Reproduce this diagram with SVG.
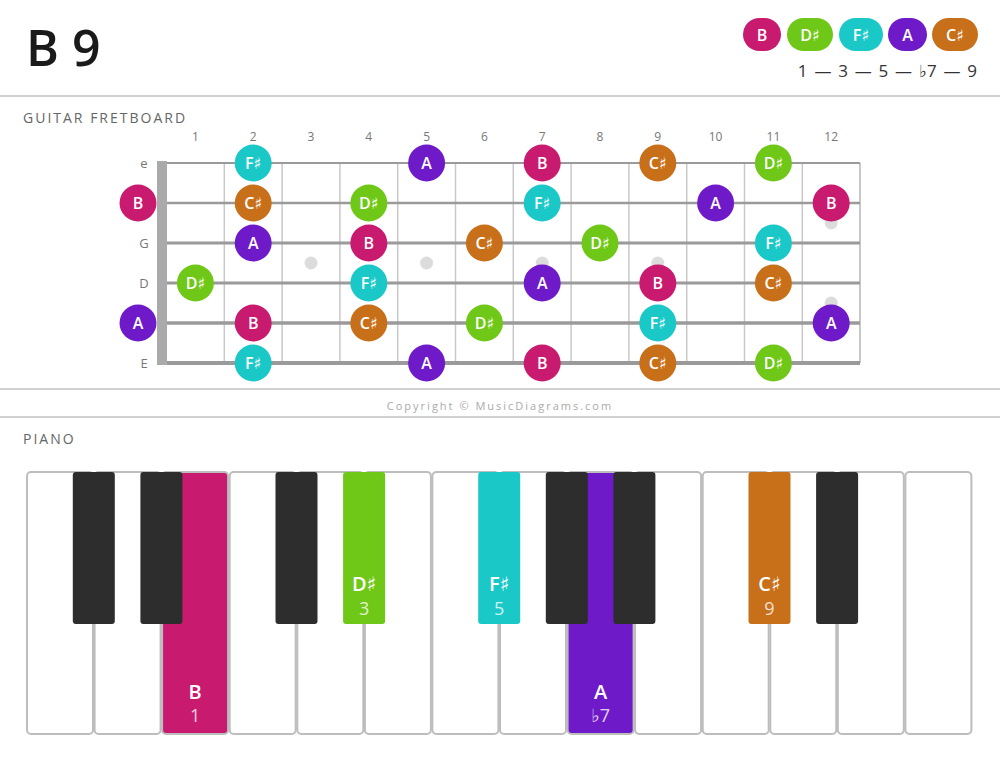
<svg xmlns="http://www.w3.org/2000/svg" width="1000" height="759" viewBox="0 0 1000 759">
<style>
text{font-family:"Open Sans","Noto Sans","DejaVu Sans",sans-serif}
.sep{stroke:#d0d0d0;stroke-width:2}
.head{font-size:14px;fill:#666;letter-spacing:2px}
.fn{font-size:12px;fill:#777;text-anchor:middle}
.sl{font-size:13px;fill:#777;text-anchor:middle}
.str{stroke:#9a9a9a}
.fret{stroke:#c8c8c8;stroke-width:1.5}
.dot{fill:#dcdcdc}
.n text,.lg text{fill:#fff;font-weight:600;font-size:16px;text-anchor:middle}
.wk{fill:#fff;stroke:#bdbdbd;stroke-width:2}
.bk{fill:#2d2d2d}
.kl{fill:#fff;font-weight:600;font-size:20px;text-anchor:middle}
.ki{fill:#fff;fill-opacity:.8;font-size:18px;text-anchor:middle}
.cB{fill:#c81a6f}.cD{fill:#6fc817}.cF{fill:#1bc8c8}.cA{fill:#6f1ac8}.cC{fill:#c86f1a}
</style>
<rect width="1000" height="759" fill="#fff"/>
<text x="26" y="66" font-size="50" font-weight="600" fill="#1a1a1a">B 9</text>
<g class="lg" id="legend">
<rect x="743" y="18" width="38" height="33" rx="16.5" class="cB"/><text x="762" y="40.5">B</text>
<rect x="787" y="18" width="46" height="33" rx="16.5" class="cD"/><text x="810" y="40.5">D♯</text>
<rect x="839" y="18" width="44" height="33" rx="16.5" class="cF"/><text x="861" y="40.5">F♯</text>
<rect x="888" y="18" width="39" height="33" rx="16.5" class="cA"/><text x="907.5" y="40.5">A</text>
<rect x="932" y="18" width="46" height="33" rx="16.5" class="cC"/><text x="955" y="40.5">C♯</text>
</g>
<text x="977" y="77" font-size="17" fill="#333" text-anchor="end" word-spacing="2.4">1 — 3 — 5 — ♭7 — 9</text>
<line x1="0" y1="96" x2="1000" y2="96" class="sep"/>
<text x="23" y="123" class="head">GUITAR FRETBOARD</text>
<g id="fret-numbers">
<text x="195.4" y="141" class="fn">1</text><text x="253.2" y="141" class="fn">2</text><text x="311" y="141" class="fn">3</text><text x="368.8" y="141" class="fn">4</text><text x="426.6" y="141" class="fn">5</text><text x="484.4" y="141" class="fn">6</text><text x="542.2" y="141" class="fn">7</text><text x="600" y="141" class="fn">8</text><text x="657.8" y="141" class="fn">9</text><text x="715.6" y="141" class="fn">10</text><text x="773.4" y="141" class="fn">11</text><text x="831.2" y="141" class="fn">12</text>
</g>
<g id="string-labels">
<text x="144" y="168" class="sl">e</text><text x="144" y="248" class="sl">G</text><text x="144" y="288" class="sl">D</text><text x="144" y="368" class="sl">E</text>
</g>
<g id="fretboard">
<g class="fret">
<line x1="224.3" y1="163" x2="224.3" y2="363"/><line x1="282.1" y1="163" x2="282.1" y2="363"/><line x1="339.9" y1="163" x2="339.9" y2="363"/><line x1="397.7" y1="163" x2="397.7" y2="363"/><line x1="455.5" y1="163" x2="455.5" y2="363"/><line x1="513.3" y1="163" x2="513.3" y2="363"/><line x1="571.1" y1="163" x2="571.1" y2="363"/><line x1="628.9" y1="163" x2="628.9" y2="363"/><line x1="686.7" y1="163" x2="686.7" y2="363"/><line x1="744.5" y1="163" x2="744.5" y2="363"/><line x1="802.3" y1="163" x2="802.3" y2="363"/><line x1="860" y1="163" x2="860" y2="363" stroke-width="2"/>
</g>
<g class="dot">
<circle cx="311" cy="263" r="6.5"/><circle cx="426.6" cy="263" r="6.5"/><circle cx="542.2" cy="263" r="6.5"/><circle cx="657.8" cy="263" r="6.5"/><circle cx="831.2" cy="223" r="6.5"/><circle cx="831.2" cy="303" r="6.5"/>
</g>
<g class="str">
<line x1="157" y1="163" x2="860" y2="163" stroke-width="2"/><line x1="157" y1="203" x2="860" y2="203" stroke-width="2.4"/><line x1="157" y1="243" x2="860" y2="243" stroke-width="2.8"/><line x1="157" y1="283" x2="860" y2="283" stroke-width="3.2"/><line x1="157" y1="323" x2="860" y2="323" stroke-width="3.6"/><line x1="157" y1="363" x2="860" y2="363" stroke-width="4"/>
</g>
<rect x="157" y="161" width="10" height="204" fill="#aaa"/>
</g>
<g class="n" id="fret-notes">
<g id="e2"><circle cx="253.2" cy="163" r="18.5" class="cF"/><text x="253.2" y="168.5">F♯</text></g>
<g id="e5"><circle cx="426.6" cy="163" r="18.5" class="cA"/><text x="426.6" y="168.5">A</text></g>
<g id="e7"><circle cx="542.2" cy="163" r="18.5" class="cB"/><text x="542.2" y="168.5">B</text></g>
<g id="e9"><circle cx="657.8" cy="163" r="18.5" class="cC"/><text x="657.8" y="168.5">C♯</text></g>
<g id="e11"><circle cx="773.4" cy="163" r="18.5" class="cD"/><text x="773.4" y="168.5">D♯</text></g>
<g id="B0"><circle cx="138" cy="203" r="18.5" class="cB"/><text x="138" y="208.5">B</text></g>
<g id="B2"><circle cx="253.2" cy="203" r="18.5" class="cC"/><text x="253.2" y="208.5">C♯</text></g>
<g id="B4"><circle cx="368.8" cy="203" r="18.5" class="cD"/><text x="368.8" y="208.5">D♯</text></g>
<g id="B7"><circle cx="542.2" cy="203" r="18.5" class="cF"/><text x="542.2" y="208.5">F♯</text></g>
<g id="B10"><circle cx="715.6" cy="203" r="18.5" class="cA"/><text x="715.6" y="208.5">A</text></g>
<g id="B12"><circle cx="831.2" cy="203" r="18.5" class="cB"/><text x="831.2" y="208.5">B</text></g>
<g id="G2"><circle cx="253.2" cy="243" r="18.5" class="cA"/><text x="253.2" y="248.5">A</text></g>
<g id="G4"><circle cx="368.8" cy="243" r="18.5" class="cB"/><text x="368.8" y="248.5">B</text></g>
<g id="G6"><circle cx="484.4" cy="243" r="18.5" class="cC"/><text x="484.4" y="248.5">C♯</text></g>
<g id="G8"><circle cx="600" cy="243" r="18.5" class="cD"/><text x="600" y="248.5">D♯</text></g>
<g id="G11"><circle cx="773.4" cy="243" r="18.5" class="cF"/><text x="773.4" y="248.5">F♯</text></g>
<g id="D1"><circle cx="195.4" cy="283" r="18.5" class="cD"/><text x="195.4" y="288.5">D♯</text></g>
<g id="D4"><circle cx="368.8" cy="283" r="18.5" class="cF"/><text x="368.8" y="288.5">F♯</text></g>
<g id="D7"><circle cx="542.2" cy="283" r="18.5" class="cA"/><text x="542.2" y="288.5">A</text></g>
<g id="D9"><circle cx="657.8" cy="283" r="18.5" class="cB"/><text x="657.8" y="288.5">B</text></g>
<g id="D11"><circle cx="773.4" cy="283" r="18.5" class="cC"/><text x="773.4" y="288.5">C♯</text></g>
<g id="A0"><circle cx="138" cy="323" r="18.5" class="cA"/><text x="138" y="328.5">A</text></g>
<g id="A2"><circle cx="253.2" cy="323" r="18.5" class="cB"/><text x="253.2" y="328.5">B</text></g>
<g id="A4"><circle cx="368.8" cy="323" r="18.5" class="cC"/><text x="368.8" y="328.5">C♯</text></g>
<g id="A6"><circle cx="484.4" cy="323" r="18.5" class="cD"/><text x="484.4" y="328.5">D♯</text></g>
<g id="A9"><circle cx="657.8" cy="323" r="18.5" class="cF"/><text x="657.8" y="328.5">F♯</text></g>
<g id="A12"><circle cx="831.2" cy="323" r="18.5" class="cA"/><text x="831.2" y="328.5">A</text></g>
<g id="E2"><circle cx="253.2" cy="363" r="18.5" class="cF"/><text x="253.2" y="368.5">F♯</text></g>
<g id="E5"><circle cx="426.6" cy="363" r="18.5" class="cA"/><text x="426.6" y="368.5">A</text></g>
<g id="E7"><circle cx="542.2" cy="363" r="18.5" class="cB"/><text x="542.2" y="368.5">B</text></g>
<g id="E9"><circle cx="657.8" cy="363" r="18.5" class="cC"/><text x="657.8" y="368.5">C♯</text></g>
<g id="E11"><circle cx="773.4" cy="363" r="18.5" class="cD"/><text x="773.4" y="368.5">D♯</text></g>
</g>
<line x1="0" y1="389" x2="1000" y2="389" class="sep"/>
<text x="500" y="410" font-size="11" fill="#aaa" letter-spacing="2" text-anchor="middle">Copyright © MusicDiagrams.com</text>
<line x1="0" y1="417" x2="1000" y2="417" class="sep"/>
<text x="23" y="444" class="head">PIANO</text>
<g id="piano">
<g id="white-keys">
<rect x="27" y="472" width="66" height="262" rx="4" class="wk"/>
<rect x="94.6" y="472" width="66" height="262" rx="4" class="wk"/>
<rect x="162.1" y="472" width="66" height="262" rx="4" class="wk cB"/>
<rect x="229.7" y="472" width="66" height="262" rx="4" class="wk"/>
<rect x="297.3" y="472" width="66" height="262" rx="4" class="wk"/>
<rect x="364.9" y="472" width="66" height="262" rx="4" class="wk"/>
<rect x="432.4" y="472" width="66" height="262" rx="4" class="wk"/>
<rect x="500" y="472" width="66" height="262" rx="4" class="wk"/>
<rect x="567.6" y="472" width="66" height="262" rx="4" class="wk cA"/>
<rect x="635.1" y="472" width="66" height="262" rx="4" class="wk"/>
<rect x="702.7" y="472" width="66" height="262" rx="4" class="wk"/>
<rect x="770.3" y="472" width="66" height="262" rx="4" class="wk"/>
<rect x="837.8" y="472" width="66" height="262" rx="4" class="wk"/>
<rect x="905.4" y="472" width="66" height="262" rx="4" class="wk"/>
</g>
<g id="black-keys">
<rect x="72.8" y="472" width="42" height="152" rx="3" class="bk"/>
<rect x="140.4" y="472" width="42" height="152" rx="3" class="bk"/>
<rect x="275.5" y="472" width="42" height="152" rx="3" class="bk"/>
<rect x="343.1" y="472" width="42" height="152" rx="3" class="cD"/>
<rect x="478.2" y="472" width="42" height="152" rx="3" class="cF"/>
<rect x="545.8" y="472" width="42" height="152" rx="3" class="bk"/>
<rect x="613.4" y="472" width="42" height="152" rx="3" class="bk"/>
<rect x="748.5" y="472" width="42" height="152" rx="3" class="cC"/>
<rect x="816.1" y="472" width="42" height="152" rx="3" class="bk"/>
</g>
<g id="key-labels">
<text x="195.1" y="699" class="kl">B</text><text x="195.1" y="722" class="ki">1</text>
<text x="600.6" y="699" class="kl">A</text><text x="600.6" y="722" class="ki">♭7</text>
<text x="364.1" y="591" class="kl">D♯</text><text x="364.1" y="615" class="ki">3</text>
<text x="499.2" y="591" class="kl">F♯</text><text x="499.2" y="615" class="ki">5</text>
<text x="769.5" y="591" class="kl">C♯</text><text x="769.5" y="615" class="ki">9</text>
</g>
</g>
</svg>
